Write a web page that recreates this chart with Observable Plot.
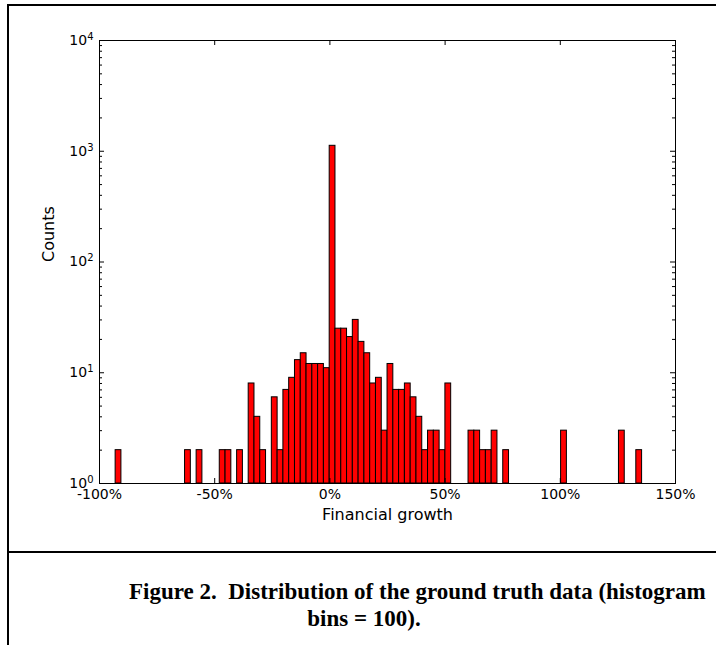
<!DOCTYPE html>
<html><head><meta charset="utf-8">
<script src="https://cdn.jsdelivr.net/npm/d3@7"></script>
<script src="https://cdn.jsdelivr.net/npm/@observablehq/plot@0.6"></script>
<style>
body{margin:0;background:#fff;}
#page{position:relative;width:716px;height:645px;overflow:hidden;background:#fff;}
.rule{position:absolute;background:#000;}
.cap{position:absolute;font-family:"Liberation Serif","Times New Roman",serif;font-weight:bold;font-size:23px;white-space:nowrap;color:#000;line-height:1;}
</style></head><body>
<div id="page">
 <div id="chart" style="position:absolute;left:0;top:0"></div>
 <div class="rule" style="left:7px;top:4px;width:709px;height:2px"></div>
 <div class="rule" style="left:7px;top:4px;width:2px;height:641px"></div>
 <div class="rule" style="left:7px;top:551px;width:709px;height:2px"></div>
 <div class="cap" id="cap1" style="left:129px;top:580px">Figure 2.&nbsp; Distribution of the ground truth data (histogram</div>
 <div class="cap" id="cap2" style="left:364px;top:607px;transform:translateX(-50%)">bins = 100).</div>
</div>
<script>
// Histogram: 100 bins over the data range; bins past 150% lie beyond the axis limit
const binStart = -93.0;   // % (left edge of first bin)
const binWidth = 2.511;   // % per bin
const counts = [
  2,0,0,0,0,0,0,0,0,0,      // 0-9
  0,0,2,0,2,0,0,0,2,2,      // 10-19
  0,2,0,8,4,2,0,6,2,7,      // 20-29
  9,13,15,12,12,12,11,1120,25,25, // 30-39
  21,30,19,15,8,9,3,12,7,7, // 40-49
  8,6,4,2,3,3,2,8,0,0,      // 50-59
  0,3,3,2,2,3,0,2,0,0,      // 60-69
  0,0,0,0,0,0,0,3,0,0,      // 70-79
  0,0,0,0,0,0,0,3,0,0,      // 80-89
  2,0,0,0,0,0               // 90-95
];
const xTicks = [-100, -50, 0, 50, 100, 150];
const xTickLabels = ["-100%", "-50%", "0%", "50%", "100%", "150%"];
const yTicks = [1, 10, 100, 1000, 10000];
const yTickBase = "10";
const yTickExponents = ["0", "1", "2", "3", "4"];
const yMinorMultipliers = [2, 3, 4, 5, 6, 7, 8, 9];
const yDecades = [1, 10, 100, 1000];
const yMinor = yDecades.flatMap(dk => yMinorMultipliers.map(m => m * dk));

const bins = counts.map((c, i) => ({x1: binStart + i * binWidth, x2: binStart + (i + 1) * binWidth, count: c}))
  .filter(d => d.count > 0);

const W = 716, H = 552, mL = 99, mR = 41, mT = 40, mB = 69;
const innerH = H - mT - mB, innerW = W - mL - mR;

const chart = Plot.plot({
  width: W, height: H,
  marginLeft: mL, marginRight: mR, marginTop: mT, marginBottom: mB,
  style: {fontFamily: "'DejaVu Sans', sans-serif", fontSize: "14px", background: "transparent", color: "black"},
  x: {domain: [-100, 150]},
  y: {type: "log", domain: [1, 10000]},
  marks: [
    Plot.rect(bins, {x1: "x1", x2: "x2", y1: () => 1, y2: "count", fill: "#ff0000", stroke: "black", strokeWidth: 1}),
    Plot.frame({stroke: "black", strokeWidth: 1}),
    Plot.tickX(xTicks, {x: d => d, insetTop: innerH - 5, stroke: "black"}),
    Plot.tickX(xTicks, {x: d => d, insetBottom: innerH - 5, stroke: "black"}),
    Plot.tickY(yTicks, {y: d => d, insetRight: innerW - 5, stroke: "black"}),
    Plot.tickY(yTicks, {y: d => d, insetLeft: innerW - 5, stroke: "black"}),
    Plot.tickY(yMinor, {y: d => d, insetRight: innerW - 3, stroke: "black"}),
    Plot.tickY(yMinor, {y: d => d, insetLeft: innerW - 3, stroke: "black"}),
    Plot.axisX(xTicks, {tickSize: 0, tickPadding: 6, tickFormat: d => xTickLabels[xTicks.indexOf(d)], label: null, fontSize: 14}),
    Plot.axisY(yTicks, {tickSize: 0, tickPadding: 6, tickFormat: d => yTickBase + yTickExponents[yTicks.indexOf(d)], label: null, fontSize: 14}),
    Plot.text(["Counts"], {frameAnchor: "left", dx: -51, rotate: -90, text: d => d, fontSize: 16}),
    Plot.text(["Financial growth"], {frameAnchor: "bottom", dy: 36, text: d => d, fontSize: 16})
  ]
});
// typeset the exponent of each y tick label as a raised superscript
d3.select(chart).selectAll('g[aria-label="y-axis tick label"] text').each(function() {
  const t = this.textContent;
  const exp = t.slice(yTickBase.length);
  const sel = d3.select(this);
  sel.text(yTickBase);
  sel.append("tspan").attr("dy", "-0.5em").attr("font-size", "10px").text(exp);
});
document.getElementById("chart").appendChild(chart);
</script>
</body></html>
